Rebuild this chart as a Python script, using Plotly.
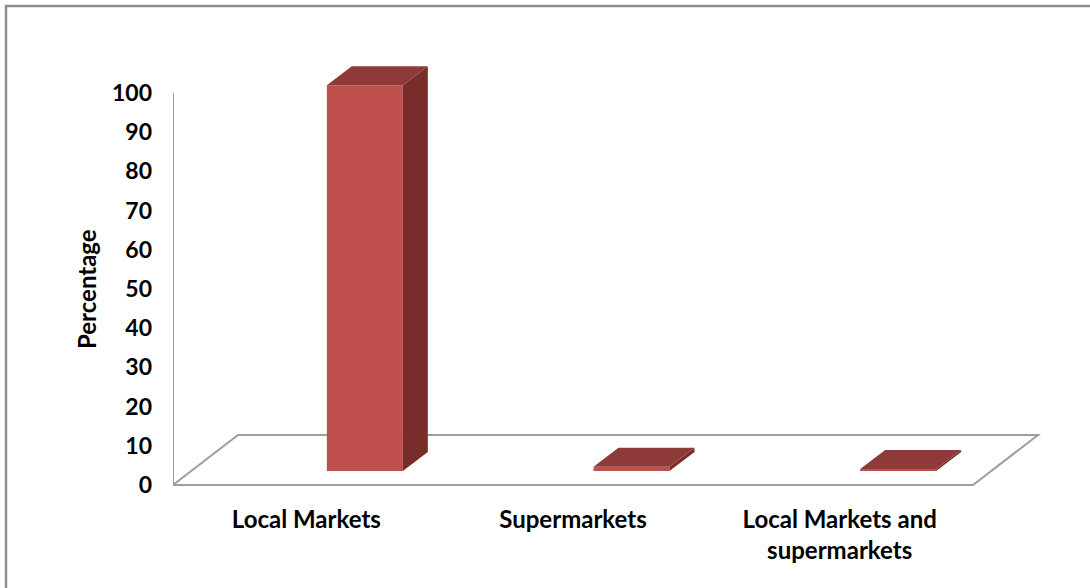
import plotly.graph_objects as go

# ---- data ----
categories = ["Local Markets", "Supermarkets", "Local Markets and<br>supermarkets"]
values = [98.4, 1.1, 0.5]
y_ticks = [0, 10, 20, 30, 40, 50, 60, 70, 80, 90, 100]

# ---- layout / style constants ----
W, H = 1090, 588
L, R, T, B = 173, 45, 40, 91
XMAX = 3.27
PXY = 3.92                        # px per y unit
ph = H - T - B
pw = W - L - R
YMIN = -(T + ph - 485) / PXY
YMAX = YMIN + ph / PXY
PXX = pw / XMAX                   # px per x unit

FLOOR_DX = 65 / PXX
FLOOR_DY = 50 / PXY
BAR_OFF = 58.5 / PXX
BAR_W = 76 / PXX
BAR_BASE = 14 / PXY
DEPTH_DX = 25 / PXX
DEPTH_DY = 19 / PXY

FRONT = "#C0504D"
TOP = "#8E3A38"
SIDE = "#782D2B"
GRID = "#9E9E9E"
FONT = "Lato"

xc = [i + 0.5 for i in range(len(categories))]

fig = go.Figure()

# front faces
fig.add_trace(go.Bar(
    x=[c + BAR_OFF for c in xc], y=values, base=[BAR_BASE] * len(values),
    width=BAR_W, marker=dict(color=FRONT, line=dict(width=0)),
    hoverinfo="skip", showlegend=False))

# side and top faces
for c, v in zip(xc, values):
    x0 = c + BAR_OFF - BAR_W / 2
    x1 = c + BAR_OFF + BAR_W / 2
    yb = BAR_BASE
    yt = BAR_BASE + v
    fig.add_trace(go.Scatter(
        x=[x1, x1 + DEPTH_DX, x1 + DEPTH_DX, x1, x1],
        y=[yb, yb + DEPTH_DY, yt + DEPTH_DY, yt, yb],
        fill="toself", fillcolor=SIDE, mode="lines", line=dict(width=0, color=SIDE),
        hoverinfo="skip", showlegend=False))
    fig.add_trace(go.Scatter(
        x=[x0, x1, x1 + DEPTH_DX, x0 + DEPTH_DX, x0],
        y=[yt, yt, yt + DEPTH_DY, yt + DEPTH_DY, yt],
        fill="toself", fillcolor=TOP, mode="lines", line=dict(width=0, color=TOP),
        hoverinfo="skip", showlegend=False))

n = len(categories)
# floor outline
fig.add_shape(type="path", xref="x", yref="y",
              path=f"M 0 0 L {n} 0 L {n + FLOOR_DX} {FLOOR_DY} L {FLOOR_DX} {FLOOR_DY} Z",
              line=dict(color=GRID, width=2), layer="below")
# vertical axis line
fig.add_shape(type="line", xref="x", yref="y", x0=0, x1=0, y0=0, y1=y_ticks[-1],
              line=dict(color=GRID, width=2), layer="below")

# outer border (page pixel coords -> paper)
def px(p): return (p - L) / pw
def py(p): return (T + ph - p) / ph
fig.add_shape(type="rect", xref="paper", yref="paper",
              x0=px(6), x1=px(W + 30), y0=py(H + 30), y1=py(6),
              line=dict(color="#8C8C8C", width=2.5), fillcolor="rgba(0,0,0,0)")

# y title
fig.add_annotation(text="Percentage", xref="paper", yref="y", x=px(86), y=50,
                   xanchor="center", yanchor="middle",
                   textangle=-90, showarrow=False,
                   font=dict(family=FONT, size=24, color="black", weight="bold"))

fig.update_layout(
    width=W, height=H,
    margin=dict(l=L, r=R, t=T, b=B),
    paper_bgcolor="white", plot_bgcolor="white",
    barmode="overlay",
    xaxis=dict(range=[0, XMAX], tickvals=xc, ticktext=categories,
               showgrid=False, zeroline=False, showline=False, ticks="",
               ticklabelstandoff=6,
               tickfont=dict(family=FONT, size=24, color="black", weight="bold"),
               fixedrange=True),
    yaxis=dict(range=[YMIN, YMAX], tickvals=y_ticks,
               showgrid=False, zeroline=False, showline=False, ticks="",
               ticklabelstandoff=20,
               tickfont=dict(family=FONT, size=23, color="black", weight="bold"),
               fixedrange=True),
)

fig.write_html("out.html",
               config={"displayModeBar": False, "staticPlot": True},
               post_script="document.body.style.margin='0';document.body.style.padding='0';")
